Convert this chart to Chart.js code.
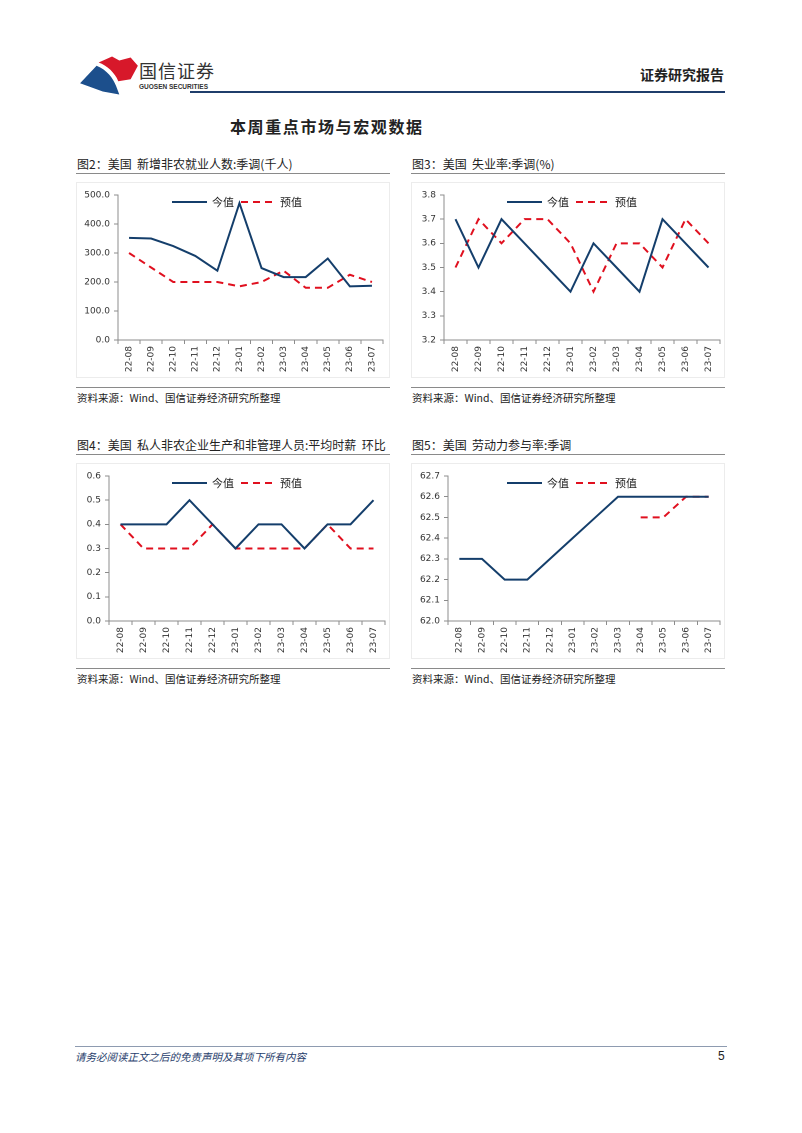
<!DOCTYPE html>
<html>
<head>
<meta charset="utf-8">
<title>本周重点市场与宏观数据</title>
<script src="https://cdn.jsdelivr.net/npm/chart.js@4.4.0/dist/chart.umd.min.js"></script>
<style>
  body { margin: 0; width: 802px; height: 1133px; position: relative; background: #fff;
         font-family: "Noto Sans CJK SC", sans-serif; color: #222; overflow: hidden; }
  .abs { position: absolute; }
  .fig-title { font-size: 12px; line-height: 14px; white-space: pre; }
  .rule { height: 0; border-top: 1.5px solid #8a8a8a; }
  .src { font-size: 10.5px; line-height: 12px; white-space: nowrap; }
  .frame { border: 1px solid #ececec; }
  canvas { position: absolute; }
</style>
</head>
<body>

<!-- header -->
<svg class="abs" style="left:78px;top:53px" width="64" height="44" viewBox="0 0 62 42">
  <path d="M20,9 L33,3 L40,7 L51,4 L58,12 L51,25 L39,27 C36,19 28,12 20,9 Z" fill="#d7182a"/>
  <path d="M2,29 L18,12 C28,16 34,24 37,32 L40,40 L24,37 Z" fill="#1c4f8c"/>
</svg>
<div class="abs" style="left:139px;top:60px;font-size:18px;line-height:20px;color:#333;letter-spacing:1px">国信证券</div>
<div class="abs" style="left:139px;top:83px;font-size:6.5px;line-height:8px;font-weight:bold;color:#333;font-family:'Liberation Sans',sans-serif">GUOSEN SECURITIES</div>
<div class="abs" style="left:640px;top:66px;font-size:14px;line-height:17px;font-weight:bold;color:#222">证券研究报告</div>
<div class="abs" style="left:190px;top:91px;width:535px;border-top:2px solid #1f3d6b"></div>

<div class="abs" style="left:230px;top:116px;font-size:16px;line-height:20px;font-weight:bold;letter-spacing:1.6px">本周重点市场与宏观数据</div>

<!-- figure titles, rules and sources -->
<div class="abs fig-title" style="left:77px;top:157px">图2：美国  新增非农就业人数:季调(千人)</div>
<div class="abs rule" style="left:76px;top:173px;width:314px"></div>
<div class="abs frame" style="left:76px;top:182px;width:312px;height:194px"></div>
<canvas id="c1" style="left:75px;top:180px"></canvas>
<div class="abs rule" style="left:76px;top:387px;width:314px"></div>
<div class="abs src" style="left:77px;top:392px">资料来源：Wind、国信证券经济研究所整理</div>

<div class="abs fig-title" style="left:412px;top:157px">图3：美国  失业率:季调(%)</div>
<div class="abs rule" style="left:411px;top:173px;width:314px"></div>
<div class="abs frame" style="left:411px;top:182px;width:312px;height:194px"></div>
<canvas id="c2" style="left:410px;top:180px"></canvas>
<div class="abs rule" style="left:411px;top:387px;width:314px"></div>
<div class="abs src" style="left:412px;top:392px">资料来源：Wind、国信证券经济研究所整理</div>

<div class="abs fig-title" style="left:77px;top:438px">图4：美国  私人非农企业生产和非管理人员:平均时薪  环比</div>
<div class="abs rule" style="left:76px;top:454px;width:314px"></div>
<div class="abs frame" style="left:76px;top:463px;width:312px;height:194px"></div>
<canvas id="c3" style="left:75px;top:461px"></canvas>
<div class="abs rule" style="left:76px;top:668px;width:314px"></div>
<div class="abs src" style="left:77px;top:673px">资料来源：Wind、国信证券经济研究所整理</div>

<div class="abs fig-title" style="left:412px;top:438px">图5：美国  劳动力参与率:季调</div>
<div class="abs rule" style="left:411px;top:454px;width:314px"></div>
<div class="abs frame" style="left:411px;top:463px;width:312px;height:194px"></div>
<canvas id="c4" style="left:410px;top:461px"></canvas>
<div class="abs rule" style="left:411px;top:668px;width:314px"></div>
<div class="abs src" style="left:412px;top:673px">资料来源：Wind、国信证券经济研究所整理</div>

<!-- footer -->
<div class="abs" style="left:75px;top:1046px;width:652px;border-top:1px solid #8e9bb0"></div>
<div class="abs" style="left:75px;top:1050px;font-size:10.5px;line-height:13px;font-style:italic;color:#1f3d6b">请务必阅读正文之后的免责声明及其项下所有内容</div>
<div class="abs" style="left:718px;top:1049px;font-size:12px;line-height:14px;color:#222;font-family:'Liberation Sans',sans-serif">5</div>

<script>
// === chart data ===
const months = ['22-08', '22-09', '22-10', '22-11', '22-12', '23-01',
                '23-02', '23-03', '23-04', '23-05', '23-06', '23-07'];
const seriesNames = ['今值', '预值'];

const nfpActual   = [352, 350, 324, 290, 239, 472, 248, 217, 217, 281, 185, 187];
const nfpForecast = [300, 250, 200, 200, 200, 185, 200, 239, 180, 180, 225, 200];

const unempActual   = [3.7, 3.5, 3.7, 3.6, 3.5, 3.4, 3.6, 3.5, 3.4, 3.7, 3.6, 3.5];
const unempForecast = [3.5, 3.7, 3.6, 3.7, 3.7, 3.6, 3.4, 3.6, 3.6, 3.5, 3.7, 3.6];

const wageActual   = [0.4, 0.4, 0.4, 0.5, 0.4, 0.3, 0.4, 0.4, 0.3, 0.4, 0.4, 0.5];
const wageForecast = [0.4, 0.3, 0.3, 0.3, 0.4, 0.3, 0.3, 0.3, 0.3, 0.4, 0.3, 0.3];

const lfprActual   = [62.3, 62.3, 62.2, 62.2, 62.3, 62.4, 62.5, 62.6, 62.6, 62.6, 62.6, 62.6];
const lfprForecast = [null, null, null, null, null, null, null, null, 62.5, 62.5, 62.6, 62.6];

const NAVY = '#143e6b';
const RED = '#e0101f';
const AXIS = '#8c8c8c';
const TICK_FONT = { family: '"DejaVu Sans", sans-serif', size: 9 };

// legend drawn inside the plot, like the original
const inLegend = {
  id: 'inLegend',
  afterDraw(chart) {
    const ctx = chart.ctx;
    const y = 22;
    ctx.save();
    ctx.lineWidth = 2;
    ctx.strokeStyle = NAVY;
    ctx.beginPath(); ctx.moveTo(97, y); ctx.lineTo(132, y); ctx.stroke();
    ctx.strokeStyle = RED;
    ctx.setLineDash([7, 5]);
    ctx.beginPath(); ctx.moveTo(166, y); ctx.lineTo(198, y); ctx.stroke();
    ctx.setLineDash([]);
    ctx.fillStyle = '#222';
    ctx.font = '11px "Noto Sans CJK SC", sans-serif';
    ctx.textBaseline = 'middle';
    ctx.fillText(seriesNames[0], 137, y);
    ctx.fillText(seriesNames[1], 205, y);
    ctx.restore();
  }
};

function makeChart(id, actual, forecast, yMin, yMax, yStep, yWidth, rightPad) {
  const canvas = document.getElementById(id);
  return new Chart(canvas, {
    type: 'line',
    data: {
      labels: months,
      datasets: [
        { label: seriesNames[0], data: actual, borderColor: NAVY, borderWidth: 2,
          pointRadius: 0, tension: 0, fill: false },
        { label: seriesNames[1], data: forecast, borderColor: RED, borderWidth: 2,
          borderDash: [7, 5], pointRadius: 0, tension: 0, fill: false, spanGaps: false }
      ]
    },
    options: {
      responsive: false,
      animation: false,
      devicePixelRatio: 2,
      layout: { padding: { top: 15, right: rightPad, left: 0, bottom: 0 } },
      plugins: { legend: { display: false }, tooltip: { enabled: false } },
      scales: {
        x: {
          offset: true,
          grid: { offset: true, drawOnChartArea: false, tickLength: 4, color: AXIS },
          border: { color: AXIS, width: 1 },
          ticks: { color: '#333', font: TICK_FONT, minRotation: 90, maxRotation: 90,
                   autoSkip: false, padding: 2 },
          afterFit(scale) { scale.height = 40; }
        },
        y: {
          min: yMin, max: yMax,
          grid: { drawOnChartArea: false, tickLength: 4, color: AXIS },
          border: { color: AXIS, width: 1 },
          ticks: { stepSize: yStep, color: '#333', font: TICK_FONT, padding: 4,
                   callback: v => Number(v).toFixed(1) },
          afterFit(scale) { scale.width = yWidth; }
        }
      }
    },
    plugins: [inLegend]
  });
}

['c1', 'c2', 'c3', 'c4'].forEach(id => {
  const c = document.getElementById(id);
  c.width = 315; c.height = 200;
  c.style.width = '315px'; c.style.height = '200px';
});

makeChart('c1', nfpActual, nfpForecast, 0, 500, 100, 43, 7);
makeChart('c2', unempActual, unempForecast, 3.2, 3.8, 0.1, 34, 5);
makeChart('c3', wageActual, wageForecast, 0, 0.6, 0.1, 34, 5);
makeChart('c4', lfprActual, lfprForecast, 62.0, 62.7, 0.1, 38, 5);
</script>
</body>
</html>
